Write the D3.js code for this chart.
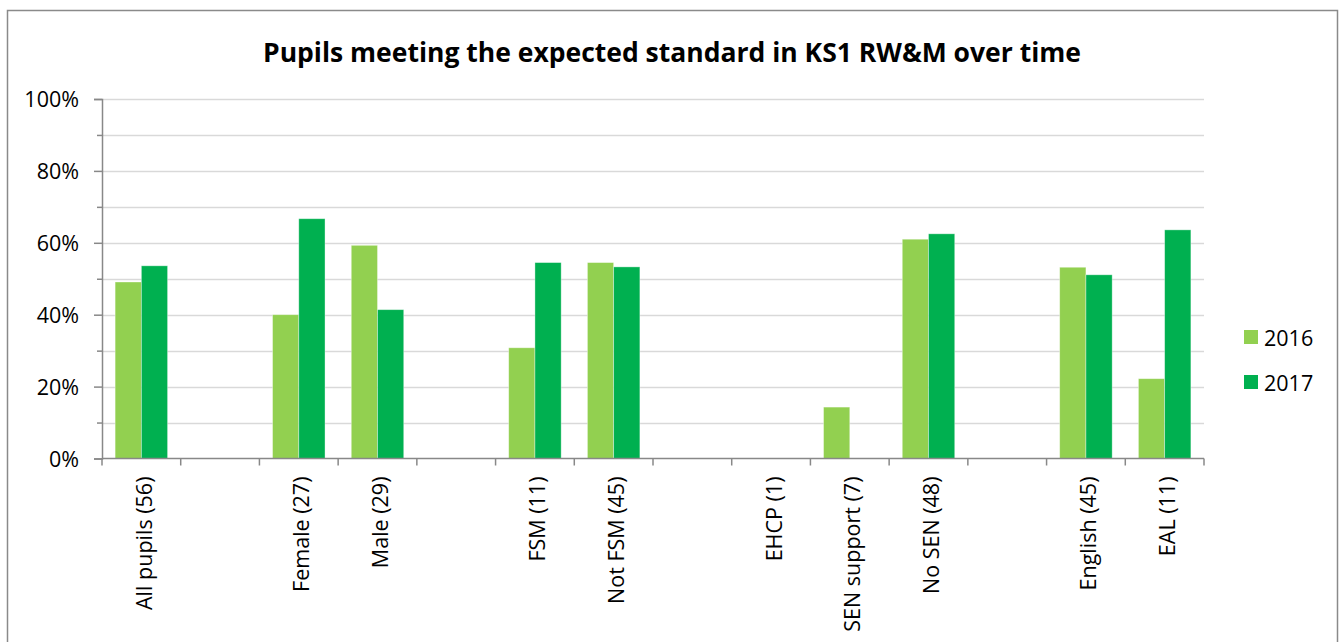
<!DOCTYPE html>
<html>
<head>
<meta charset="utf-8">
<script src="https://cdn.jsdelivr.net/npm/d3@7"></script>
<style>
  html, body { margin: 0; padding: 0; background: #fff; }
  svg { display: block; font-family: "Open Sans", "Noto Sans", sans-serif; }
</style>
</head>
<body>
<svg id="chart" width="1339" height="642"></svg>
<script>
const title = "Pupils meeting the expected standard in KS1 RW&M over time";
const categories = ["All pupils (56)", "", "Female (27)", "Male (29)", "", "FSM (11)", "Not FSM (45)", "", "EHCP (1)", "SEN support (7)", "No SEN (48)", "", "English (45)", "EAL (11)"];
const seriesNames = ["2016", "2017"];
const values2016 = [49.1, null, 40.0, 59.3, null, 30.8, 54.5, null, null, 14.3, 61.0, null, 53.2, 22.2];
const values2017 = [53.6, null, 66.7, 41.4, null, 54.5, 53.3, null, null, null, 62.5, null, 51.1, 63.6];
const seriesColors = ["#92D050", "#00B050"];
const yTicks = [0, 20, 40, 60, 80, 100];
const yMinorTicks = [10, 30, 50, 70, 90];

const svg = d3.select("#chart");
const labelSize = 21.5;

// chart border
svg.append("rect").attr("x", 7.5).attr("y", 10.5).attr("width", 1330).attr("height", 660)
  .attr("fill", "#fff").attr("stroke", "#8a8a8a").attr("stroke-width", 1.5);

const plotLeft = 102, plotRight = 1204, plotTop = 99, plotBottom = 458.5;

const x0 = d3.scaleBand().domain(d3.range(categories.length)).range([plotLeft, plotRight]).paddingInner(0).paddingOuter(0);
const x1 = d3.scaleBand().domain(seriesNames).range([0, x0.bandwidth()]).paddingInner(0).paddingOuter(0.5);
const y = d3.scaleLinear().domain([0, 100]).range([plotBottom, plotTop]);

// gridlines
const allGrid = yTicks.concat(yMinorTicks).filter(v => v > 0);
svg.append("g").selectAll("line").data(allGrid).join("line")
  .attr("x1", plotLeft).attr("x2", plotRight)
  .attr("y1", d => Math.round(y(d)) + 0.5).attr("y2", d => Math.round(y(d)) + 0.5)
  .attr("stroke", "#d9d9d9").attr("stroke-width", 1.3);

// bars
const seriesData = [values2016, values2017];
seriesData.forEach((vals, si) => {
  svg.append("g").selectAll("rect")
    .data(vals.map((v, i) => ({ i, v })).filter(d => d.v !== null))
    .join("rect")
    .attr("x", d => x0(d.i) + x1(seriesNames[si]))
    .attr("width", x1.bandwidth())
    .attr("y", d => y(d.v))
    .attr("height", d => y(0) - y(d.v))
    .attr("fill", seriesColors[si])
    .attr("stroke", "#ffffff").attr("stroke-opacity", 0.45).attr("stroke-width", 0.8);
});

// y axis
const yAxisG = svg.append("g").attr("transform", `translate(${plotLeft},0)`)
  .call(d3.axisLeft(y).tickValues(yTicks).tickSize(8).tickFormat(d => d + "%"));
yAxisG.select(".domain").attr("stroke", "#888").attr("stroke-width", 1.5);
yAxisG.selectAll(".tick line").attr("stroke", "#888").attr("stroke-width", 1.5);
yAxisG.selectAll(".tick text").attr("x", -23).attr("dy", "0.35em").attr("font-size", labelSize).attr("fill", "#000")
  .attr("font-family", "'Open Sans', sans-serif");
const yMinorG = svg.append("g").attr("transform", `translate(${plotLeft},0)`)
  .call(d3.axisLeft(y).tickValues(yMinorTicks).tickSize(5).tickFormat(""));
yMinorG.select(".domain").remove();
yMinorG.selectAll(".tick line").attr("stroke", "#888").attr("stroke-width", 1.5);

// x axis
const xAxisG = svg.append("g").attr("transform", `translate(0,${plotBottom})`);
xAxisG.append("line").attr("x1", plotLeft).attr("x2", plotRight).attr("y1", 0).attr("y2", 0)
  .attr("stroke", "#888").attr("stroke-width", 1.5);
const boundaries = d3.range(categories.length + 1).map(i => i < categories.length ? x0(i) : plotRight);
xAxisG.selectAll("line.tk").data(boundaries).join("line").attr("class", "tk")
  .attr("x1", d => d).attr("x2", d => d).attr("y1", 0).attr("y2", 7)
  .attr("stroke", "#888").attr("stroke-width", 1.5);
xAxisG.selectAll("text").data(categories.map((c, i) => ({ c, i })).filter(d => d.c !== ""))
  .join("text")
  .attr("transform", d => `translate(${x0(d.i) + x0.bandwidth() / 2 + 2},18) rotate(-90)`)
  .attr("text-anchor", "end").attr("dominant-baseline", "central")
  .attr("font-size", labelSize).attr("fill", "#000")
  .text(d => d.c);

// title
svg.append("text").attr("x", 672).attr("y", 62).attr("text-anchor", "middle")
  .attr("font-size", 26.5).attr("font-weight", "bold").attr("fill", "#000")
  .text(title);

// legend
const legend = svg.append("g");
seriesNames.forEach((s, i) => {
  const ly = 337 + i * 45;
  legend.append("rect").attr("x", 1244).attr("y", ly - 7).attr("width", 14).attr("height", 14)
    .attr("fill", seriesColors[i]);
  legend.append("text").attr("x", 1264).attr("y", ly).attr("dominant-baseline", "central")
    .attr("font-size", labelSize).attr("fill", "#000").text(s);
});
</script>
</body>
</html>
